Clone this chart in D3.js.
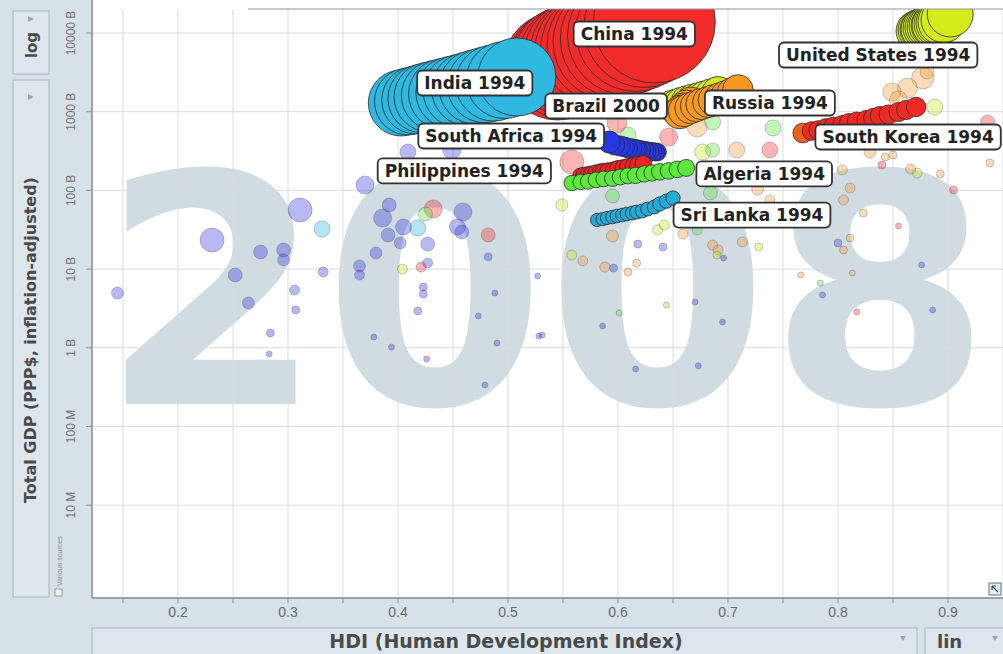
<!DOCTYPE html>
<html>
<head>
<meta charset="utf-8">
<script src="https://d3js.org/d3.v7.min.js"></script>
<style>
  body { margin: 0; background: #d6e1e8; }
  svg { display: block; }
</style>
</head>
<body>
<div id="chart"></div>
<script>
// ---- data ----
var year = "2008";

// x axis: grid every 0.05, labels every 0.1
var xGridValues = [0.15, 0.2, 0.25, 0.3, 0.35, 0.4, 0.45, 0.5, 0.55, 0.6, 0.65, 0.7, 0.75, 0.8, 0.85, 0.9, 0.95];
var xTickValues = [0.2, 0.3, 0.4, 0.5, 0.6, 0.7, 0.8, 0.9];
// y axis (GDP in billions)
var yTickValues = [0.01, 0.1, 1, 10, 100, 1000, 10000];
var yTickLabels = ["10 M", "100 M", "1 B", "10 B", "100 B", "1000 B", "10000 B"];

var regionColors = ["#3b3bde", "#2fb8e0", "#f03030", "#c8e61e", "#f59a3a", "#58e040"];

// highlighted trails, one value per year
var chinaHdi = [0.545, 0.550, 0.554, 0.560, 0.565, 0.571, 0.576, 0.582, 0.588, 0.594, 0.601, 0.608, 0.616, 0.624, 0.633];
var chinaGdp = [3810, 4100, 4410, 4750, 5100, 5490, 5910, 6450, 7040, 7690, 8390, 9290, 10450, 11920, 13800];
var chinaPop = [1138, 1158, 1178, 1198, 1218, 1240, 1262, 1284, 1306, 1328, 1350, 1374, 1400, 1426, 1452];

var indiaHdi = [0.403, 0.409, 0.416, 0.422, 0.428, 0.435, 0.442, 0.449, 0.456, 0.464, 0.471, 0.479, 0.487, 0.497, 0.508];
var indiaGdp = [1290, 1348, 1408, 1471, 1537, 1607, 1679, 1754, 1833, 1943, 2060, 2184, 2316, 2529, 2761];
var indiaPop = [425, 436, 447, 459, 471, 483, 495, 507, 519, 531, 543, 555, 567, 580, 593];

var brazilHdi = [0.649, 0.654, 0.658, 0.663, 0.668, 0.674, 0.679, 0.685, 0.691];
var brazilGdp = [1181, 1235, 1290, 1348, 1408, 1471, 1537, 1631, 1728];
var brazilPop = [96, 97, 98, 99, 100, 101, 102, 104, 106];

var russiaHdi = [0.666, 0.662, 0.659, 0.657, 0.656, 0.660, 0.666, 0.671, 0.676, 0.682, 0.687, 0.693, 0.698, 0.704, 0.709];
var russiaGdp = [1290, 1181, 1082, 1021, 963, 1021, 1114, 1181, 1253, 1328, 1408, 1493, 1583, 1728, 1887];
var russiaPop = [100, 100, 99, 99, 98, 98, 97, 97, 96, 95, 95, 94, 93, 92, 92];

var usHdi = [0.871, 0.873, 0.875, 0.876, 0.878, 0.880, 0.882, 0.884, 0.886, 0.887, 0.889, 0.891, 0.893, 0.896, 0.902];
var usGdp = [10600, 10920, 11080, 11250, 11580, 11750, 11920, 12270, 12450, 12640, 13010, 13400, 13800, 14630, 17430];
var usPop = [156, 159, 162, 165, 168, 171, 174, 177, 180, 183, 186, 190, 194, 198, 206];

var koreaHdi = [0.768, 0.776, 0.782, 0.789, 0.796, 0.804, 0.810, 0.817, 0.826, 0.832, 0.838, 0.846, 0.855, 0.862, 0.871];
var koreaGdp = [536, 568, 585, 620, 648, 678, 719, 751, 785, 832, 882, 921, 991, 1051, 1148];
var koreaPop = [38, 34, 34, 35, 35, 35, 35, 35, 36, 36, 36, 36, 36, 36, 37];

var saHdi = [0.636, 0.634, 0.632, 0.629, 0.626, 0.624, 0.621, 0.618, 0.616, 0.613, 0.609, 0.606, 0.602, 0.597, 0.592];
var saGdp = [307, 307, 312, 312, 317, 321, 326, 331, 336, 341, 346, 356, 367, 378, 412];
var saPop = [30, 31, 31, 32, 33, 33, 34, 35, 35, 36, 37, 38, 39, 40, 47];

var phHdi = [0.566, 0.569, 0.573, 0.576, 0.580, 0.584, 0.587, 0.591, 0.596, 0.600, 0.605, 0.609, 0.614, 0.618, 0.623];
var phGdp = [153, 157, 160, 162, 167, 172, 174, 177, 182, 188, 193, 199, 204, 210, 217];
var phPop = [24, 24, 24, 25, 25, 25, 26, 26, 26, 27, 27, 27, 28, 28, 28];

var dzHdi = [0.558, 0.566, 0.573, 0.580, 0.587, 0.595, 0.602, 0.609, 0.616, 0.624, 0.631, 0.638, 0.646, 0.654, 0.662];
var dzGdp = [124, 128, 130, 136, 140, 142, 148, 153, 155, 162, 167, 172, 177, 185, 193];
var dzPop = [23, 23, 24, 24, 24, 25, 25, 25, 26, 26, 26, 27, 27, 27, 28];

var lkHdi = [0.581, 0.586, 0.590, 0.595, 0.599, 0.604, 0.608, 0.613, 0.617, 0.622, 0.627, 0.633, 0.638, 0.644, 0.650];
var lkGdp = [42.1, 43.3, 44.6, 45.9, 47.3, 48.7, 50.1, 51.6, 53.1, 54.7, 58.0, 61.5, 67.1, 73.1, 80.0];
var lkPop = [17, 17, 17, 18, 18, 18, 18, 19, 19, 19, 19, 19, 20, 20, 20];

// all the other countries in 2008 (faded)
var bgHdi = [0.145, 0.231, 0.311, 0.331, 0.275, 0.296, 0.296, 0.252, 0.264, 0.332, 0.306, 0.307, 0.284, 0.283,
  0.370, 0.392, 0.386, 0.405, 0.418, 0.425, 0.432, 0.459, 0.454, 0.458, 0.391, 0.402, 0.427, 0.380, 0.365, 0.365,
  0.404, 0.421, 0.427, 0.482, 0.482, 0.423, 0.423, 0.418, 0.488, 0.473, 0.490, 0.378, 0.394, 0.426, 0.479, 0.527,
  0.528, 0.409, 0.449, 0.558, 0.599, 0.609, 0.646, 0.672, 0.686, 0.677, 0.686, 0.708, 0.741, 0.738, 0.595, 0.549,
  0.595, 0.558, 0.568, 0.588, 0.596, 0.609, 0.617, 0.618, 0.641, 0.636, 0.642, 0.659, 0.672, 0.686, 0.691, 0.690,
  0.696, 0.713, 0.728, 0.684, 0.727, 0.738, 0.804, 0.805, 0.811, 0.823, 0.800, 0.805, 0.811, 0.855, 0.872, 0.866,
  0.843, 0.840, 0.850, 0.893, 0.905, 0.938, 0.876, 0.886, 0.813, 0.766, 0.784, 0.786, 0.817, 0.695, 0.670, 0.644,
  0.601, 0.586, 0.616, 0.673, 0.531, 0.877, 0.863, 0.849, 0.888, 0.855, 0.881, 0.936, 0.829, 0.911];
var bgGdp = [4.97, 23.4, 56.4, 32.3, 16.5, 17.5, 13.1, 8.42, 3.71, 9.19, 5.43, 3.02, 1.54, 0.834,
  117, 65.3, 44.6, 34.3, 33.3, 50.1, 58.0, 53.2, 34.3, 29.6, 27.1, 21.5, 20.8, 16.0, 10.95, 8.42,
  10.0, 10.6, 11.95, 27.1, 14.3, 5.93, 4.83, 2.94, 4.97, 2.54, 1.15, 1.37, 1.02, 0.721, 0.337, 8.17,
  1.41, 308, 326, 230, 719, 506, 477, 639, 740, 308, 326, 326, 621, 326, 84.9, 65.3,
  26.3, 15.1, 12.7, 10.6, 10.3, 9.19, 11.95, 20.8, 19.1, 31.4, 36.3, 27.9, 31.4, 20.2, 17.5, 15.1,
  13.8, 22.1, 19.1, 92.7, 104, 75.5, 182, 75.5, 107, 51.6, 21.5, 17.5, 24.8, 35.3, 166, 187,
  266, 210, 282, 162, 101, 223, 11.3, 3.02, 8.92, 8.42, 6.66, 4.69, 2.85, 2.13, 3.82, 3.50,
  2.77, 1.89, 0.538, 0.59, 1.45, 2681, 2001, 1780, 1148, 1408, 3195, 740, 308, 506];
var bgPop = [14, 56, 56, 25, 19, 19, 14, 19, 14, 9.8, 9.8, 6.2, 6.2, 3.5,
  32, 19, 32, 25, 25, 19, 32, 32, 25, 19, 19, 14, 19, 14, 14, 9.8,
  9.8, 9.8, 9.8, 19, 6.2, 6.2, 6.2, 6.2, 3.5, 3.5, 3.5, 3.5, 3.5, 3.5, 3.5, 3.5,
  3.5, 25, 32, 56, 39, 25, 32, 39, 25, 25, 19, 25, 25, 25, 19, 14,
  14, 9.8, 9.8, 9.8, 6.2, 6.2, 6.2, 6.2, 6.2, 9.8, 9.8, 9.8, 9.8, 9.8, 9.8, 6.2,
  3.5, 9.8, 6.2, 19, 14, 9.8, 9.8, 9.8, 9.8, 6.2, 6.2, 6.2, 6.2, 3.5, 9.8, 9.8,
  6.2, 6.2, 6.2, 6.2, 6.2, 6.2, 3.5, 3.5, 3.5, 3.5, 3.5, 3.5, 3.5, 3.5, 3.5, 3.5,
  3.5, 3.5, 3.5, 3.5, 3.5, 47, 39, 32, 25, 32, 19, 19, 14, 9.8];
var bgRegion = [0, 0, 0, 1, 0, 0, 0, 0, 0, 0, 0, 0, 0, 0,
  0, 0, 0, 0, 1, 5, 2, 0, 0, 0, 0, 0, 0, 0, 0, 0,
  3, 2, 0, 2, 0, 0, 0, 0, 0, 0, 0, 0, 0, 0, 0, 0,
  0, 0, 0, 2, 2, 5, 2, 4, 5, 3, 5, 4, 5, 2, 5, 3,
  4, 3, 4, 4, 0, 4, 4, 0, 0, 3, 3, 4, 5, 4, 4, 3,
  0, 4, 3, 5, 4, 4, 4, 4, 4, 4, 0, 4, 4, 2, 3, 4,
  4, 2, 4, 4, 2, 4, 0, 0, 4, 4, 5, 0, 2, 0, 0, 4,
  5, 0, 0, 0, 0, 4, 4, 4, 3, 4, 4, 2, 4, 4];

var trails = [
  {name: "China", start: 1994, hdi: chinaHdi, gdp: chinaGdp, pop: chinaPop, color: "#f22b2b"},
  {name: "India", start: 1994, hdi: indiaHdi, gdp: indiaGdp, pop: indiaPop, color: "#2fb8e0"},
  {name: "Brazil", start: 2000, hdi: brazilHdi, gdp: brazilGdp, pop: brazilPop, color: "#d5ec1c"},
  {name: "Russia", start: 1994, hdi: russiaHdi, gdp: russiaGdp, pop: russiaPop, color: "#f7981f"},
  {name: "United States", start: 1994, hdi: usHdi, gdp: usGdp, pop: usPop, color: "#d5ec1c"},
  {name: "South Korea", start: 1994, hdi: koreaHdi, gdp: koreaGdp, pop: koreaPop, color: "#ee2a22", first: "#f06018"},
  {name: "South Africa", start: 1994, hdi: saHdi, gdp: saGdp, pop: saPop, color: "#2637e6"},
  {name: "Philippines", start: 1994, hdi: phHdi, gdp: phGdp, pop: phPop, color: "#e82424"},
  {name: "Algeria", start: 1994, hdi: dzHdi, gdp: dzGdp, pop: dzPop, color: "#5ce83a"},
  {name: "Sri Lanka", start: 1994, hdi: lkHdi, gdp: lkGdp, pop: lkPop, color: "#27a9d6"}
];

// label placement, relative to the latest bubble of each trail
var labelOffset = {
  "China": [-20, 12], "India": [-42, 6], "Brazil": [-112, 13], "Russia": [32, 13],
  "United States": [-72, 41], "South Korea": [-8, 30], "South Africa": [-98, -6],
  "Philippines": [-179, 7], "Algeria": [78, 6], "Sri Lanka": [79, 17]
};

// ---- drawing ----
var W = 1003, H = 654;
var plot = {left: 92, right: 1003, top: 9, bottom: 598};

var svg = d3.select("#chart").append("svg")
  .attr("width", W)
  .attr("height", H);

svg.append("rect").attr("width", W).attr("height", H).attr("fill", "#d6e1e8");
svg.append("rect")
  .attr("x", plot.left).attr("y", 0)
  .attr("width", plot.right - plot.left).attr("height", plot.bottom)
  .attr("fill", "#fff");

var x = d3.scaleLinear().domain([0.12182, 0.95]).range([plot.left, plot.right]);
var y = d3.scaleLog().domain([6.62e-4, 20180]).range([plot.bottom, plot.top]);
var r = d3.scaleSqrt().domain([0, 1500]).range([0, 62]);

svg.append("clipPath").attr("id", "clip")
  .append("rect")
  .attr("x", plot.left).attr("y", plot.top)
  .attr("width", plot.right - plot.left).attr("height", plot.bottom - plot.top);

var gPlot = svg.append("g").attr("clip-path", "url(#clip)");

// big year watermark
gPlot.append("text")
  .attr("x", 546).attr("y", 404)
  .attr("text-anchor", "middle")
  .style("font-family", "'DejaVu Sans', Verdana, sans-serif")
  .style("font-weight", "bold")
  .style("font-size", "320px")
  .attr("fill", "#d0dce2")
  .text(year);

// grid
gPlot.selectAll(".vgrid").data(xGridValues).enter()
  .append("line")
  .attr("x1", d => x(d)).attr("x2", d => x(d))
  .attr("y1", plot.top).attr("y2", plot.bottom)
  .attr("stroke", "#d9dde0").attr("stroke-width", 1);
gPlot.selectAll(".hgrid").data(yTickValues).enter()
  .append("line")
  .attr("x1", plot.left).attr("x2", plot.right)
  .attr("y1", d => y(d)).attr("y2", d => y(d))
  .attr("stroke", "#d9dde0").attr("stroke-width", 1);

// faded bubbles, big ones behind
var bg = d3.range(bgHdi.length).map(i => ({hdi: bgHdi[i], gdp: bgGdp[i], pop: bgPop[i], region: bgRegion[i]}));
bg.sort((a, b) => b.pop - a.pop);
gPlot.selectAll(".bg").data(bg).enter()
  .append("circle")
  .attr("cx", d => x(d.hdi))
  .attr("cy", d => y(d.gdp))
  .attr("r", d => r(d.pop))
  .attr("fill", d => regionColors[d.region])
  .attr("fill-opacity", 0.36)
  .attr("stroke", "#334")
  .attr("stroke-opacity", 0.26)
  .attr("stroke-width", 1);

// trails
trails.forEach(function(t) {
  var pts = t.hdi.map((h, i) => ({hdi: h, gdp: t.gdp[i], pop: t.pop[i], i: i}));
  gPlot.append("g").selectAll("circle").data(pts).enter()
    .append("circle")
    .attr("cx", d => x(d.hdi))
    .attr("cy", d => y(d.gdp))
    .attr("r", d => r(d.pop))
    .attr("fill", d => (d.i === 0 && t.first) ? t.first : t.color)
    .attr("stroke", "#2a2a2a")
    .attr("stroke-opacity", 0.8)
    .attr("stroke-width", 1);
});

// axes lines
svg.append("line")
  .attr("x1", plot.left).attr("x2", plot.left).attr("y1", 0).attr("y2", plot.bottom)
  .attr("stroke", "#7d8d99").attr("stroke-width", 1.5);
svg.append("line")
  .attr("x1", plot.left).attr("x2", plot.right).attr("y1", plot.bottom).attr("y2", plot.bottom)
  .attr("stroke", "#7d8d99").attr("stroke-width", 1.5);
svg.append("line")
  .attr("x1", 248).attr("x2", plot.right).attr("y1", plot.top).attr("y2", plot.top)
  .attr("stroke", "#8a99a4").attr("stroke-width", 1);

// x ticks
svg.selectAll(".xt").data(xGridValues.filter(v => x(v) < plot.right - 2)).enter()
  .append("line")
  .attr("x1", d => x(d)).attr("x2", d => x(d))
  .attr("y1", plot.bottom).attr("y2", plot.bottom + 5)
  .attr("stroke", "#8a8f94");
svg.selectAll(".xl").data(xTickValues).enter()
  .append("text")
  .attr("x", d => x(d)).attr("y", 617)
  .attr("text-anchor", "middle")
  .style("font-family", "'Liberation Sans', Arial, sans-serif")
  .style("font-size", "14px")
  .attr("fill", "#6a6a6a")
  .text(d => d3.format(".1f")(d));

// y ticks
svg.selectAll(".yt").data(yTickValues).enter()
  .append("line")
  .attr("x1", plot.left - 6).attr("x2", plot.left)
  .attr("y1", d => y(d)).attr("y2", d => y(d))
  .attr("stroke", "#8a8f94");
svg.selectAll(".yl").data(yTickValues).enter()
  .append("text")
  .attr("transform", d => "translate(75," + y(d) + ") rotate(-90)")
  .attr("text-anchor", "middle")
  .style("font-family", "'Liberation Sans', Arial, sans-serif")
  .style("font-size", "12px")
  .attr("fill", "#707070")
  .text((d, i) => yTickLabels[i]);

// trail labels
trails.forEach(function(t) {
  var n = t.hdi.length - 1;
  var off = labelOffset[t.name];
  var g = svg.append("g")
    .attr("transform", "translate(" + (x(t.hdi[n]) + off[0]) + "," + (y(t.gdp[n]) + off[1]) + ")");
  var box = g.append("rect");
  var txt = g.append("text")
    .attr("text-anchor", "middle")
    .attr("y", 6)
    .style("font-family", "'DejaVu Sans', Verdana, sans-serif")
    .style("font-weight", "bold")
    .style("font-size", "17px")
    .attr("fill", "#222")
    .text(t.name + " " + t.start);
  var w = txt.node().getComputedTextLength() + 14;
  box.attr("x", -w / 2).attr("y", -12.5)
    .attr("width", w).attr("height", 25)
    .attr("rx", 5)
    .attr("fill", "#fff")
    .attr("stroke", "#333")
    .attr("stroke-width", 1.8);
});

// left panel
svg.append("rect").attr("x", 13).attr("y", 11).attr("width", 36).attr("height", 63)
  .attr("fill", "#dde6ec").attr("stroke", "#a9b8c2");
svg.append("text")
  .attr("transform", "translate(37,45) rotate(-90)")
  .attr("text-anchor", "middle")
  .style("font-family", "'DejaVu Sans', Verdana, sans-serif")
  .style("font-weight", "bold").style("font-size", "15px")
  .attr("fill", "#4a4a4a")
  .text("log");
svg.append("path").attr("d", "M28,16 L34,19 L28,22 Z").attr("fill", "#9aa5ad");

svg.append("rect").attr("x", 13).attr("y", 80).attr("width", 36).attr("height", 517)
  .attr("fill", "#dde6ec").attr("stroke", "#a9b8c2");
svg.append("text")
  .attr("transform", "translate(36,340) rotate(-90)")
  .attr("text-anchor", "middle")
  .style("font-family", "'DejaVu Sans', Verdana, sans-serif")
  .style("font-weight", "bold").style("font-size", "16px")
  .attr("fill", "#4a4a4a")
  .text("Total GDP (PPP$, inflation-adjusted)");
svg.append("path").attr("d", "M28,94 L34,97 L28,100 Z").attr("fill", "#9aa5ad");

svg.append("text")
  .attr("transform", "translate(62,586) rotate(-90)")
  .style("font-family", "'Liberation Sans', Arial, sans-serif")
  .style("font-size", "7px")
  .attr("fill", "#8a8a8a")
  .text("Various sources");
svg.append("rect").attr("x", 55).attr("y", 589).attr("width", 7).attr("height", 7)
  .attr("fill", "#f4f4f4").attr("stroke", "#888").attr("stroke-width", 0.8);

// bottom panel
svg.append("rect").attr("x", 92).attr("y", 628).attr("width", 825).attr("height", 30)
  .attr("fill", "#dde6ec").attr("stroke", "#a9b8c2");
svg.append("text")
  .attr("x", 506).attr("y", 648)
  .attr("text-anchor", "middle")
  .style("font-family", "'DejaVu Sans', Verdana, sans-serif")
  .style("font-weight", "bold").style("font-size", "19px")
  .attr("fill", "#4a4a4a")
  .text("HDI (Human Development Index)");
svg.append("path").attr("d", "M900,636 L906,636 L903,641 Z").attr("fill", "#9aa5ad");

svg.append("rect").attr("x", 925).attr("y", 628).attr("width", 85).attr("height", 30)
  .attr("fill", "#dde6ec").attr("stroke", "#a9b8c2");
svg.append("text")
  .attr("x", 937).attr("y", 648)
  .style("font-family", "'DejaVu Sans', Verdana, sans-serif")
  .style("font-weight", "bold").style("font-size", "18px")
  .attr("fill", "#4a4a4a")
  .text("lin");
svg.append("path").attr("d", "M992,636 L998,636 L995,641 Z").attr("fill", "#9aa5ad");

// little corner button
svg.append("rect").attr("x", 989).attr("y", 583).attr("width", 12).attr("height", 12)
  .attr("fill", "#e4ecf1").attr("stroke", "#5f7280");
svg.append("path").attr("d", "M992,586 L998,592 M992,586 L992,590 M992,586 L996,586")
  .attr("stroke", "#3f5160").attr("stroke-width", 1.2).attr("fill", "none");
</script>
</body>
</html>
